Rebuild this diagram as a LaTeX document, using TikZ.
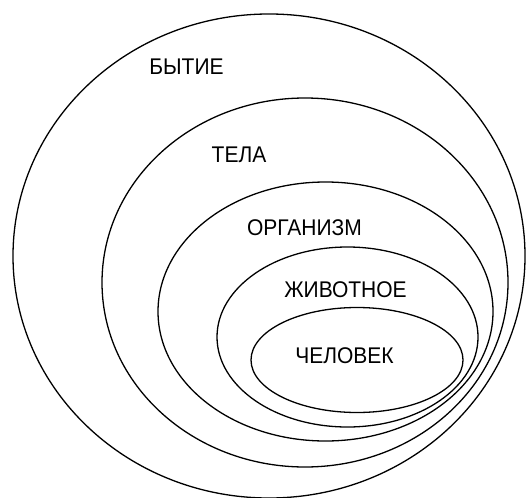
\documentclass[tikz,border=0pt]{standalone}
\usepackage{fontspec}
\setmainfont{Liberation Sans}
\begin{document}
\begin{tikzpicture}[x=1pt,y=-1pt,
  ring/.style={draw=black,line width=1.3pt},
  lbl/.style={anchor=base,inner sep=0pt,font=\fontsize{21}{21}\selectfont,yscale=1.08}]
\useasboundingbox (0,0) rectangle (526,497);
\begin{scope}
\clip (0,0) rectangle (526,497);
\draw[ring] (269,256) ellipse (256 and 242);
\end{scope}
\draw[ring] (305,282.5) ellipse (203 and 184.5);
\draw[ring] (325.5,311.5) ellipse (167.5 and 129.5);
\draw[ring] (347.5,337) ellipse (130.5 and 90);
\draw[ring] (357,360) ellipse (106 and 52.5);
\node[lbl] (bytie) at (186.5,75) {БЫТИЕ};
\node[lbl] (tela) at (239,162) {ТЕЛА};
\node[lbl] (organizm) at (304.5,235) {ОРГАНИЗМ};
\node[lbl] (zhivotnoe) at (345.5,297) {ЖИВОТНОЕ};
\node[lbl] (chelovek) at (344.5,363) {ЧЕЛОВЕК};
\end{tikzpicture}
\end{document}
